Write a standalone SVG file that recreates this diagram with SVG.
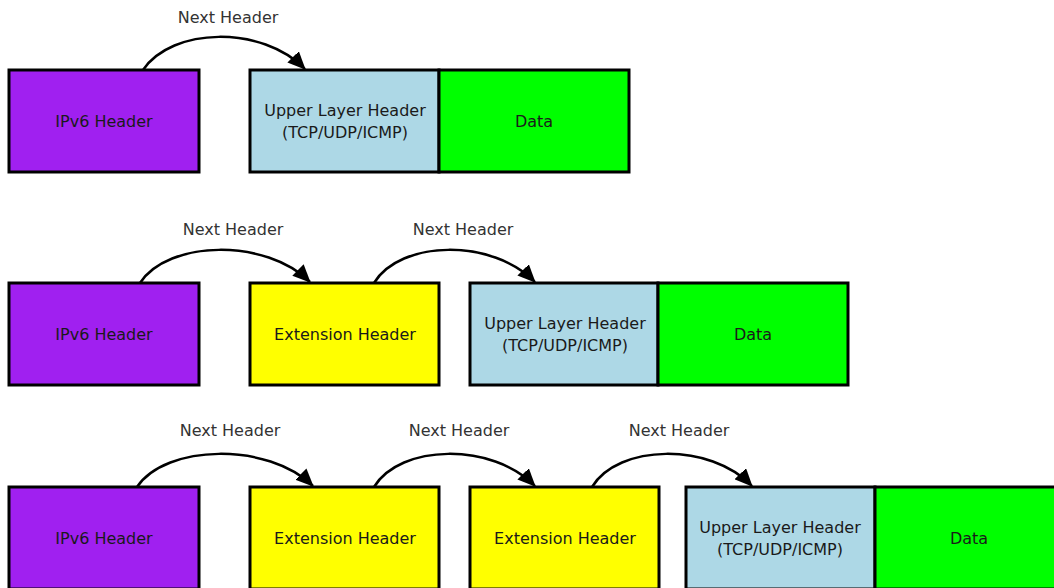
<svg xmlns="http://www.w3.org/2000/svg" width="1054" height="588" viewBox="0 0 1054 588">
<style>
.box{stroke:#000;stroke-width:3}
.ipv6{fill:#a020f0}
.ulh{fill:#add8e6}
.data{fill:#00ff00}
.ext{fill:#ffff00}
.t{font-family:"DejaVu Sans",sans-serif;font-size:16px;fill:#1a1a1a;text-anchor:middle;dominant-baseline:central}
.lbl{font-family:"DejaVu Sans",sans-serif;font-size:16px;fill:#333;text-anchor:middle;dominant-baseline:central}
.arc{fill:none;stroke:#000;stroke-width:2.5;marker-end:url(#ah)}
</style>
<defs>
<marker id="ah" markerUnits="userSpaceOnUse" markerWidth="18" markerHeight="16" viewBox="0 0 18 16" refX="17" refY="8" orient="auto">
<path d="M0,0 L18,8 L0,16 z" fill="#000"/>
</marker>
</defs>
<rect width="1054" height="588" fill="#fff"/>
<g id="row1">
<g id="r1-ipv6"><rect class="box ipv6" x="9" y="70" width="190" height="102"/><text class="t" x="104" y="121">IPv6 Header</text></g>
<g id="r1-ulh"><rect class="box ulh" x="250" y="70" width="189" height="102"/><text class="t" x="345" y="110">Upper Layer Header</text><text class="t" x="345" y="132">(TCP/UDP/ICMP)</text></g>
<g id="r1-data"><rect class="box data" x="439" y="70" width="190" height="102"/><text class="t" x="534" y="121">Data</text></g>
</g>
<g id="row2">
<g id="r2-ipv6"><rect class="box ipv6" x="9" y="283" width="190" height="102"/><text class="t" x="104" y="334">IPv6 Header</text></g>
<g id="r2-ext"><rect class="box ext" x="250" y="283" width="189" height="102"/><text class="t" x="345" y="334">Extension Header</text></g>
<g id="r2-ulh"><rect class="box ulh" x="470" y="283" width="188" height="102"/><text class="t" x="565" y="323">Upper Layer Header</text><text class="t" x="565" y="345">(TCP/UDP/ICMP)</text></g>
<g id="r2-data"><rect class="box data" x="658" y="283" width="190" height="102"/><text class="t" x="753" y="334">Data</text></g>
</g>
<g id="row3">
<g id="r3-ipv6"><rect class="box ipv6" x="9" y="487" width="190" height="102"/><text class="t" x="104" y="538">IPv6 Header</text></g>
<g id="r3-ext1"><rect class="box ext" x="250" y="487" width="189" height="102"/><text class="t" x="345" y="538">Extension Header</text></g>
<g id="r3-ext2"><rect class="box ext" x="470" y="487" width="189" height="102"/><text class="t" x="565" y="538">Extension Header</text></g>
<g id="r3-ulh"><rect class="box ulh" x="686" y="487" width="189" height="102"/><text class="t" x="780" y="527">Upper Layer Header</text><text class="t" x="780" y="549">(TCP/UDP/ICMP)</text></g>
<g id="r3-data"><rect class="box data" x="875" y="487" width="195" height="102"/><text class="t" x="969" y="538">Data</text></g>
</g>
<g id="connectors">
<path class="arc" d="M143,70 C172,27 262,25 305,69"/>
<path class="arc" d="M140,283 C168,240 266,238 310,282"/>
<path class="arc" d="M374,283 C400,240 492,238 535,282"/>
<path class="arc" d="M137,487 C166,444 268,442 313,486"/>
<path class="arc" d="M374,487 C400,444 492,442 535,486"/>
<path class="arc" d="M592,487 C618,444 710,442 752,486"/>
</g>
<g id="labels">
<text class="lbl" x="228" y="17">Next Header</text>
<text class="lbl" x="233" y="229">Next Header</text>
<text class="lbl" x="463" y="229">Next Header</text>
<text class="lbl" x="230" y="430">Next Header</text>
<text class="lbl" x="459" y="430">Next Header</text>
<text class="lbl" x="679" y="430">Next Header</text>
</g>
</svg>
